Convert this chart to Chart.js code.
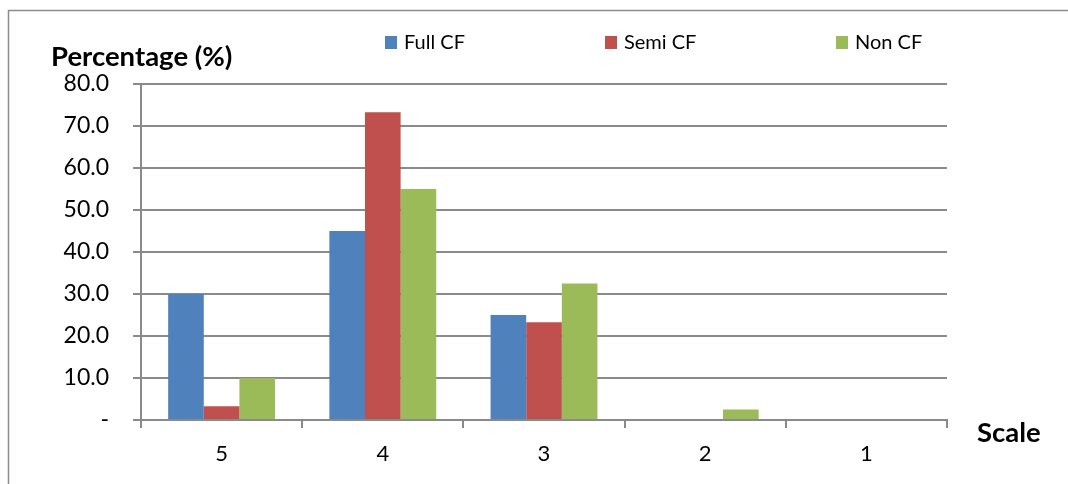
<!DOCTYPE html>
<html>
<head>
<meta charset="utf-8">
<script src="https://cdn.jsdelivr.net/npm/chart.js@4/dist/chart.umd.min.js"></script>
<style>
  html, body { margin: 0; padding: 0; background: #fff; }
  #wrap { width: 1068px; height: 484px; position: relative; }
</style>
</head>
<body>
<div id="wrap"><canvas id="c" width="1068" height="484"></canvas></div>
<script>
// Rating scale categories and share of respondents (%) per group
const categories = ['5', '4', '3', '2', '1'];
const fullCF = [30.0, 45.0, 25.0, 0, 0];
const semiCF = [3.3, 73.3, 23.3, 0, 0];
const nonCF  = [10.0, 55.0, 32.5, 2.5, 0];
const seriesNames = ['Full CF', 'Semi CF', 'Non CF'];
const seriesColors = ['#4F81BD', '#C0504D', '#9BBB59'];
const yTickValues = [0, 10, 20, 30, 40, 50, 60, 70, 80];

const FONT = 'Lato, "Open Sans", "DejaVu Sans", sans-serif';
const GRID = '#8a8a8a';

// Frame, axis titles and the legend row drawn on top of the chart
const decorations = {
  id: 'decorations',
  afterDraw(chart) {
    const ctx = chart.ctx;
    ctx.save();
    // outer frame (top and left edges show within the canvas)
    ctx.strokeStyle = '#8c8c8c';
    ctx.lineWidth = 1.5;
    ctx.beginPath();
    ctx.moveTo(8.5, 490);
    ctx.lineTo(8.5, 10.5);
    ctx.lineTo(1075, 10.5);
    ctx.stroke();

    // axis titles
    ctx.fillStyle = '#000';
    ctx.font = 'bold 27.5px ' + FONT;
    ctx.textBaseline = 'alphabetic';
    ctx.textAlign = 'left';
    ctx.fillText('Percentage (%)', 51, 66);
    ctx.fillText('Scale', 977, 442);

    // legend
    const legendX = [385, 605, 836];
    ctx.font = '20px ' + FONT;
    ctx.textBaseline = 'middle';
    chart.data.datasets.forEach((ds, i) => {
      ctx.fillStyle = ds.backgroundColor;
      ctx.fillRect(legendX[i], 36, 12, 13);
      ctx.fillStyle = '#000';
      ctx.fillText(ds.label, legendX[i] + 19, 42.5);
    });
    ctx.restore();
  }
};

new Chart(document.getElementById('c'), {
  type: 'bar',
  data: {
    labels: categories,
    datasets: [
      { label: seriesNames[0], data: fullCF, backgroundColor: seriesColors[0] },
      { label: seriesNames[1], data: semiCF, backgroundColor: seriesColors[1] },
      { label: seriesNames[2], data: nonCF,  backgroundColor: seriesColors[2] }
    ]
  },
  options: {
    responsive: false,
    animation: false,
    devicePixelRatio: 1,
    layout: { padding: { top: 84, right: 121, bottom: 0, left: 0 } },
    datasets: {
      bar: { categoryPercentage: 0.663, barPercentage: 1.0, borderWidth: 0 }
    },
    plugins: {
      legend: { display: false },
      tooltip: { enabled: false },
      title: { display: false }
    },
    scales: {
      x: {
        grid: {
          display: true,
          drawOnChartArea: false,
          drawTicks: true,
          tickLength: 8,
          offset: true,
          color: GRID,
          lineWidth: 2
        },
        border: { display: true, color: GRID, width: 2 },
        ticks: {
          color: '#000',
          font: { family: FONT, size: 22 },
          padding: 13,
          maxRotation: 0
        },
        afterFit(scale) { scale.height = 64; }
      },
      y: {
        min: 0,
        max: 80,
        afterBuildTicks(scale) {
          scale.ticks = yTickValues.map(v => ({ value: v }));
        },
        grid: {
          color: GRID,
          lineWidth: 2,
          drawTicks: true,
          tickLength: 8
        },
        border: { display: true, color: GRID, width: 2 },
        ticks: {
          color: '#000',
          font: { family: FONT, size: 23 },
          padding: 24,
          callback: v => (v === 0 ? '-' : v.toFixed(1))
        },
        afterFit(scale) { scale.width = 141; }
      }
    }
  },
  plugins: [decorations]
});
</script>
</body>
</html>
